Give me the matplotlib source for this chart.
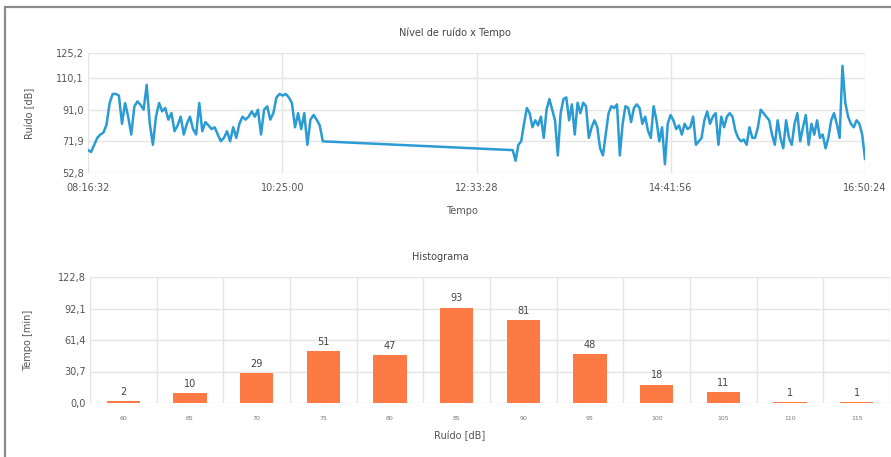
# Noise level over time + histogram of time per noise band

import pandas as pd
import matplotlib.pyplot as plt
import matplotlib.dates as mdates
from matplotlib.patches import Rectangle

# noise readings [dB], morning block and afternoon block
seg1_start = "2020-01-01 08:16:32"
seg1_end = "2020-01-01 10:51:50"
seg1_db = [66.6, 65.5, 69.8, 74, 76, 77.2, 82, 95, 100.5, 100.5, 99.5, 82.5, 95, 86.8,
           76, 93, 96, 94, 91, 106, 82.5, 69.8, 86.8, 95, 90, 92, 85, 89, 78, 81.5, 86.8,
           76, 82.5, 86.8, 79.3, 76, 95, 78, 83.5, 81.5, 79.3, 80.4, 76, 72, 74, 78, 72,
           80.4, 74, 82.5, 86.8, 85, 86.8, 90, 86.8, 91, 76, 91, 93, 85, 89, 98.4, 100.5,
           99.5, 100.5, 98.4, 95, 80.4, 88.9, 79.3, 88.9, 69.8, 85, 87.8, 85, 81.5, 71.9]

seg2_start = "2020-01-01 12:57:26"
seg2_end = "2020-01-01 16:50:24"
seg2_db = [66.6, 60.2, 69.8, 71.9, 82.5, 92, 88.9, 80.4, 84.6, 81.5, 86.8, 74, 91, 97.4,
           91, 84.6, 63.4, 88.9, 97.4, 98.4, 84.6, 94.2, 76, 95.2, 88.9, 95.2, 93.1, 74,
           80.4, 84.6, 80.4, 67.7, 63.4, 76, 88.9, 93.1, 92, 94.2, 63.4, 82.5, 93.1, 92,
           83.5, 92, 94.2, 92, 82.5, 86.8, 78.3, 74, 93.1, 84.6, 71.9, 80.4, 58.1, 82.5,
           87.8, 84.6, 79.3, 81.5, 76, 82.5, 79.3, 80.4, 86.8, 69.8, 71.9,
           74, 84.6, 89.9, 82.5, 86.8, 88.9, 69.8, 86.8, 80.4, 86.8, 88.9, 86.8, 78.3, 74,
           71.9, 73, 69.8, 80.4, 74, 74, 80.4, 91, 88.9, 86.8, 84.6, 76, 69.8, 84.6, 74,
           67.7, 84.6, 74, 69.8, 82.5, 88.9, 71.9, 80.4, 87.8, 69.8, 82.5, 76, 84.6, 74,
           76, 67.7, 74, 84.6, 88.9, 82.5, 74, 117.5, 95.2, 86.8, 82.5, 80.4, 84.6, 82.5,
           76, 61.3]

line_yticks = [52.8, 71.9, 91.0, 110.1, 125.2]

# histogram
hist_bins = ["60", "65", "70", "75", "80", "85", "90", "95", "100", "105", "110", "115"]
hist_min = [2, 10, 29, 51, 47, 93, 81, 48, 18, 11, 1, 1]
hist_yticks = [0.0, 30.7, 61.4, 92.1, 122.8]

t1 = pd.date_range(seg1_start, seg1_end, periods=len(seg1_db))
t2 = pd.date_range(seg2_start, seg2_end, periods=len(seg2_db))
times = t1.append(t2)
noise = seg1_db + seg2_db

W, H = 891, 457
fig = plt.figure(figsize=(W / 100, H / 100), dpi=100)
fig.add_artist(Rectangle((5 / W, -0.1), 1.2, 1.1 - 7 / H, transform=fig.transFigure,
                         fill=False, ec="#8a8a8a", lw=1.6))

grid_c = "#e4e4e4"
txt_c = "#555555"

# ---- top: noise x time
ax1 = fig.add_axes([88 / W, 1 - 173 / H, (865 - 88) / W, (173 - 53) / H])
ax1.plot(times, noise, color="#2a9bd3", lw=1.8)
ax1.set_ylim(52.8, 125.2)
ax1.set_xlim(times[0], times[-1])
ax1.set_yticks(line_yticks)
ax1.set_yticklabels([f"{v:.1f}".replace(".", ",") for v in line_yticks])
ax1.set_xticks(pd.date_range(times[0], times[-1], periods=5))
ax1.xaxis.set_major_formatter(mdates.DateFormatter("%H:%M:%S"))
ax1.grid(True, color=grid_c, lw=1)
for s in ax1.spines.values():
    s.set_visible(False)
ax1.tick_params(axis="y", length=0, labelsize=7, labelcolor=txt_c, pad=3)
ax1.tick_params(axis="x", length=0, labelsize=7, labelcolor=txt_c, pad=7)
ax1.set_axisbelow(True)

fig.text(455 / W, 1 - 33 / H, "Nível de ruído x Tempo", ha="center", va="center",
         fontsize=7, color="#444444")
fig.text(462 / W, 1 - 211 / H, "Tempo", ha="center", va="center", fontsize=7, color=txt_c)
fig.text(30 / W, 1 - 113 / H, "Ruído [dB]", ha="center", va="center", fontsize=7,
         color=txt_c, rotation=90)

# ---- bottom: histogram
ax2 = fig.add_axes([90 / W, 1 - 403 / H, (890 - 90) / W, (403 - 277) / H])
x = range(len(hist_bins))
bars = ax2.bar(x, hist_min, width=0.5, color="#fd7a45")
ax2.bar_label(bars, padding=3, fontsize=7, color="#444444")
ax2.set_xlim(-0.5, len(hist_bins) - 0.5)
ax2.set_ylim(0, 122.8)
ax2.set_yticks(hist_yticks)
ax2.set_yticklabels([f"{v:.1f}".replace(".", ",") for v in hist_yticks])
ax2.set_xticks(list(x))
ax2.set_xticklabels(hist_bins)
ax2.set_xticks([i - 0.5 for i in range(len(hist_bins) + 1)], minor=True)
ax2.grid(True, axis="y", color=grid_c, lw=1)
ax2.grid(True, axis="x", which="minor", color=grid_c, lw=1)
ax2.tick_params(which="both", length=0)
ax2.tick_params(axis="y", labelsize=7, labelcolor=txt_c, pad=3)
ax2.tick_params(axis="x", labelsize=4.5, labelcolor="#777777", pad=9)
for s in ax2.spines.values():
    s.set_visible(False)
ax2.set_axisbelow(True)

fig.text(440 / W, 1 - 257 / H, "Histograma", ha="center", va="center", fontsize=7,
         color="#444444")
fig.text(460 / W, 1 - 436 / H, "Ruído [dB]", ha="center", va="center", fontsize=7,
         color=txt_c)
fig.text(28 / W, 1 - 340 / H, "Tempo [min]", ha="center", va="center", fontsize=7,
         color=txt_c, rotation=90)

fig.savefig("out.png", dpi=100)
